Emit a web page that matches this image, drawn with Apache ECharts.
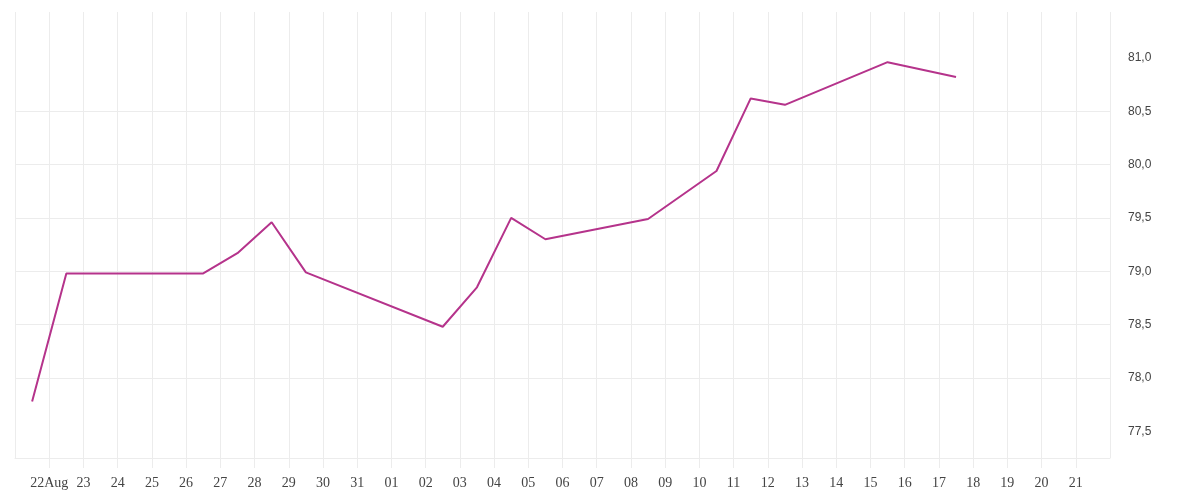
<!DOCTYPE html>
<html>
<head>
<meta charset="utf-8">
<title>Chart</title>
<script src="https://cdn.jsdelivr.net/npm/echarts@6.0.0/dist/echarts.min.js"></script>
<style>
  html, body { margin: 0; padding: 0; background: #fff; }
  #chart { width: 1200px; height: 500px; }
</style>
</head>
<body>
<div id="chart"></div>
<script>
// daily readings (taken around midday)
var dates = [
  '2020-08-21', '2020-08-22', '2020-08-23', '2020-08-24', '2020-08-25', '2020-08-26',
  '2020-08-27', '2020-08-28', '2020-08-29', '2020-09-02', '2020-09-03', '2020-09-04',
  '2020-09-05', '2020-09-08', '2020-09-10', '2020-09-11', '2020-09-12', '2020-09-15',
  '2020-09-17'
];
var values = [
  77.78, 78.98, 78.98, 78.98, 78.98, 78.98,
  79.17, 79.46, 78.99, 78.48, 78.85, 79.50,
  79.30, 79.49, 79.94, 80.62, 80.56, 80.96,
  80.82
];

var xStart = '2020-08-21';
var xEnd = '2020-09-22';
var yTicks = [77.5, 78.0, 78.5, 79.0, 79.5, 80.0, 80.5, 81.0];
var yMin = 77.25;
var yMax = 81.43;

function toTime(s, hour) {
  var p = s.split('-');
  return new Date(+p[0], +p[1] - 1, +p[2], hour || 0).getTime();
}

var DAY = 86400000;

var seriesData = [];
for (var i = 0; i < dates.length; i++) {
  seriesData.push([toTime(dates[i], 12), values[i]]);
}

var gridColor = '#ececec';

var chart = echarts.init(document.getElementById('chart'));
var option = {
  animation: false,
  grid: {
    left: 15,
    right: 90,
    top: 12,
    bottom: 42,
    containLabel: false,
    outerBoundsMode: 'none'
  },
  xAxis: {
    // plain value axis holding timestamps, one tick per day
    type: 'value',
    min: toTime(xStart),
    max: toTime(xEnd),
    interval: DAY,
    axisLine: { show: true, lineStyle: { color: gridColor, width: 1 } },
    axisTick: {
      show: true,
      length: 10,
      lineStyle: { color: gridColor, width: 1 }
    },
    splitLine: {
      show: true,
      lineStyle: { color: gridColor, width: 1 }
    },
    axisLabel: {
      showMinLabel: false,
      showMaxLabel: false,
      margin: 18,
      fontFamily: 'Liberation Serif',
      fontSize: 14,
      color: '#444',
      hideOverlap: false,
      formatter: function (val) {
        var d = new Date(val);
        var day = d.getDate();
        var s = (day < 10 ? '0' : '') + day;
        if (d.getMonth() === 7 && day === 22) s += 'Aug';
        return s;
      }
    }
  },
  yAxis: {
    type: 'value',
    position: 'right',
    min: yMin,
    max: yMax,
    axisLine: { show: false },
    axisTick: { show: false, customValues: yTicks },
    splitLine: {
      show: true,
      showMinLine: false,
      showMaxLine: false,
      lineStyle: { color: gridColor, width: 1 }
    },
    axisLabel: {
      customValues: yTicks,
      margin: 18,
      padding: [5, 0, 0, 0],
      fontFamily: 'Liberation Sans',
      fontSize: 12,
      color: '#444',
      formatter: function (val) {
        return val.toFixed(1).replace('.', ',');
      }
    }
  },
  series: [
    {
      type: 'line',
      data: seriesData,
      showSymbol: false,
      symbol: 'none',
      lineStyle: { color: '#b5338b', width: 2 },
      itemStyle: { color: '#b5338b' }
    }
  ]
};
chart.setOption(option);
</script>
</body>
</html>
